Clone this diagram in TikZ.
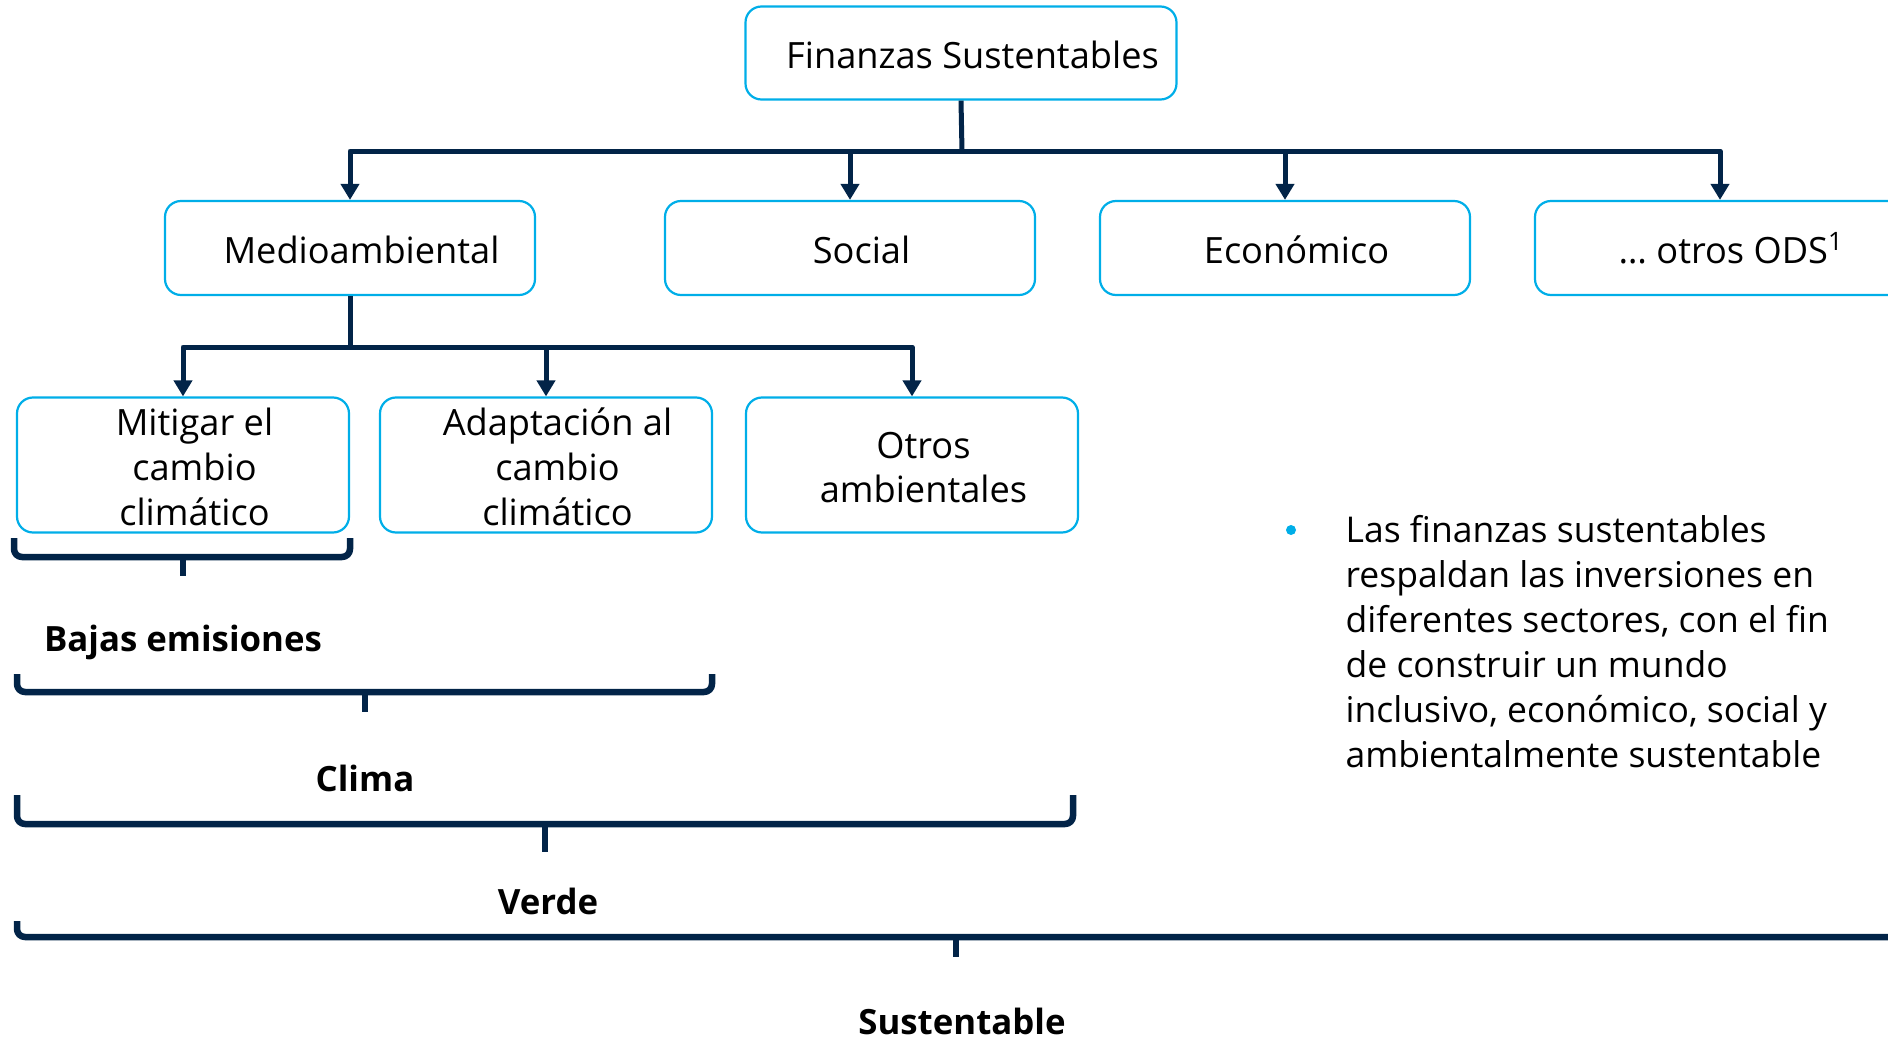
\documentclass[tikz,border=0pt]{standalone}
\usepackage{fontspec}
\setmainfont{Open Sans}
\usetikzlibrary{arrows.meta}
\definecolor{navy}{RGB}{2,36,72}
\definecolor{skyline}{RGB}{0,174,232}
\newcommand\boxlines[1]{\hspace*{2.3mm}\raisebox{-0.65mm}[\height][\depth]{\begin{tabular}{@{}c@{}}#1\end{tabular}}}
\begin{document}
\begin{tikzpicture}[x=0.1mm, y=-0.1mm, line join=round,
box/.style={draw=skyline, line width=0.22mm, rounded corners=1.6mm, inner sep=0pt, font=\fontsize{10.3}{12.8}\selectfont},
wide box/.style={box, minimum width=43.1mm, minimum height=9.3mm},
mid box/.style={box, minimum width=37mm, minimum height=9.4mm},
low box/.style={box, minimum width=33.2mm, minimum height=13.5mm},
link/.style={draw=navy, line width=0.5mm},
arrow/.style={link, -{Triangle[width=1.8mm,length=1.6mm]}},
brace/.style={draw=navy, line width=0.65mm, rounded corners=0.8mm},
tag/.style={font=\fontsize{9.9}{12}\selectfont\bfseries}]
\useasboundingbox (0,0) rectangle (1888,1041);
\begin{scope}
\node[wide box] (fin) at (961,53) {\boxlines{Finanzas Sustentables}};
\node[mid box] (med) at (350,248) {\boxlines{Medioambiental}};
\node[mid box] (soc) at (850,248) {\boxlines{Social}};
\node[mid box] (eco) at (1285,248) {\boxlines{Económico}};
\node[mid box] (ods) at (1720,248) {\boxlines{… otros ODS\textsuperscript{1}}};
\node[low box] (mit) at (183,465) {\boxlines{Mitigar el\\cambio\\climático}};
\node[low box] (ada) at (546,465) {\boxlines{Adaptación al\\cambio\\climático}};
\node[low box] (otr) at (912,465) {\boxlines{Otros\\ambientales}};
%\node[mid box] () at (,) {};
\end{scope}
\coordinate (bus1) at (962,151);
\coordinate (bus2) at (350,347);
\begin{scope}
\draw[link] (fin.south) -- (bus1);
\draw[arrow] (bus1) -| (med);
\draw[arrow] (bus1) -| (soc);
\draw[arrow] (bus1) -| (eco);
\draw[arrow] (bus1) -| (ods);
\draw[link] (med) -- (bus2);
\draw[arrow] (bus2) -| (mit);
\draw[arrow] (bus2) -| (ada);
\draw[arrow] (bus2) -| (otr);
\end{scope}
\begin{scope}
\draw[brace] (14,538) -- (14,557) -- (350,557) -- (350,538);
\draw[brace] (183,557) -- (183,576);
\draw[brace] (17,674) -- (17,692) -- (712,692) -- (712,674);
\draw[brace] (365,692) -- (365,712);
\draw[brace] (17,795) -- (17,824) -- (1073,824) -- (1073,795);
\draw[brace] (545,824) -- (545,852);
\draw[brace] (17,921) -- (17,937) -- (1905,937) -- (1905,921);
\draw[brace] (956,937) -- (956,957);
\end{scope}
\node[tag] (baj) at (183,642) {Bajas emisiones};
\node[tag] (cli) at (365,778) {Clima};
\node[tag] (ver) at (548,901) {Verde};
\node[tag] (sus) at (962,1021) {Sustentable};
\node[circle, fill=skyline, inner sep=0pt, minimum size=1mm] (dot) at (1291,530) {};
\node[anchor=west, align=left, inner sep=0pt, font=\fontsize{10.1}{12.8}\selectfont] (note) at (1345,642)
  {Las finanzas sustentables\\respaldan las inversiones en\\diferentes sectores, con el fin\\de construir un mundo\\inclusivo, económico, social y\\ambientalmente sustentable};
\end{tikzpicture}
\end{document}
